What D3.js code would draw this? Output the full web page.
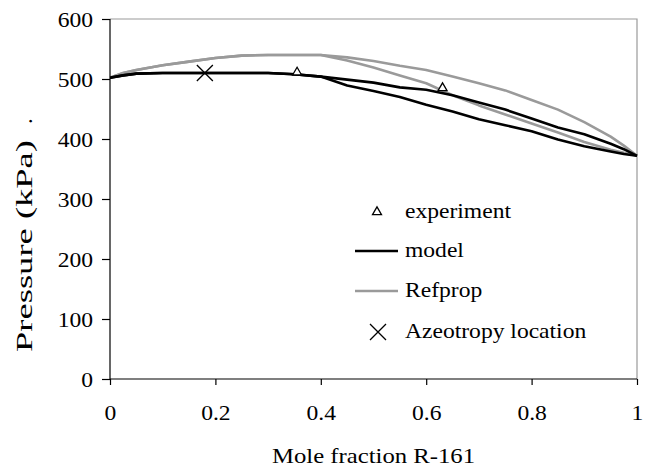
<!DOCTYPE html>
<html>
<head>
<meta charset="utf-8">
<script src="https://cdn.jsdelivr.net/npm/d3@7"></script>
<style>
  html, body { margin: 0; padding: 0; background: #fff; }
  svg { display: block; }
  text { font-family: "Liberation Serif", "Times New Roman", serif; fill: #000; }
</style>
</head>
<body>
<svg id="chart" width="653" height="470"></svg>
<script>
// Mole fraction of R-161 at which each pressure value is listed
const moleFraction = [0, 0.025, 0.05, 0.1, 0.15, 0.2, 0.25, 0.3, 0.35, 0.4, 0.45, 0.5,
                      0.55, 0.6, 0.65, 0.7, 0.75, 0.8, 0.85, 0.9, 0.95, 0.975, 1];

// Model: bubble (upper) and dew (lower) pressure, kPa
const modelBubble = [502, 506, 509, 510, 510, 510, 510, 510, 508, 504, 499, 494,
                     486, 482, 473, 461, 449, 434, 419, 408, 392, 383, 372];
const modelDew    = [502, 506, 509, 510, 510, 510, 510, 510, 508, 504, 489, 480,
                     470, 457, 446, 433, 423, 413, 399, 388, 379, 375, 372];

// Refprop: bubble (upper) and dew (lower) pressure, kPa
const refpropBubble = [502, 510, 515, 523, 529, 535, 539, 540, 540, 540, 536, 530,
                       522, 515, 504, 493, 481, 465, 449, 428, 404, 389, 372];
const refpropDew    = [502, 510, 515, 523, 529, 535, 539, 540, 540, 540, 531, 519,
                       506, 493, 473, 456, 441, 426, 411, 395, 382, 377, 372];

// Measured points
const experimentX = [0.355, 0.631];
const experimentP = [511, 485];

// Azeotrope
const azeotropeX = [0.18];
const azeotropeP = [510];

const xTicks = [0, 0.2, 0.4, 0.6, 0.8, 1];
const yTicks = [0, 100, 200, 300, 400, 500, 600];

const legendLabels = ["experiment", "model", "Refprop", "Azeotropy location"];

const svg = d3.select("#chart");
const x = d3.scaleLinear().domain([0, 1]).range([110, 637]);
const y = d3.scaleLinear().domain([0, 600]).range([379, 19]);
const SX = 1.15;   // horizontal stretch of the serif labels
const FS = 20.5;

// plot frame (top and right)
svg.append("path")
  .attr("d", `M${x(0)},${y(600)}H${x(1)}V${y(0)}`)
  .attr("fill", "none").attr("stroke", "#9a9a9a").attr("stroke-width", 1.2);

// axes
const gx = svg.append("g").attr("transform", `translate(0,${y(0)})`)
  .call(d3.axisBottom(x).tickValues(xTicks).tickSize(6).tickFormat(d3.format("")));
const gy = svg.append("g").attr("transform", `translate(${x(0)},0)`)
  .call(d3.axisLeft(y).tickValues(yTicks).tickSize(8));
[gx, gy].forEach(g => {
  g.select(".domain").attr("stroke", "#000").attr("stroke-width", 1.2);
  g.selectAll(".tick line").attr("stroke", "#000").attr("stroke-width", 1.2);
  g.selectAll(".tick text").attr("font-size", FS).attr("font-family", "Liberation Serif")
    .attr("fill", "#000").attr("x", 0).attr("y", 0).attr("dy", 0);
});
gx.selectAll(".domain").attr("d", `M${x(0)},0H${x(1)}`);
gy.selectAll(".domain").attr("d", `M0,${y(0)}V${y(600)}`);
gx.selectAll(".tick text").attr("text-anchor", "middle")
  .attr("transform", `translate(0,41) scale(${SX},1)`);
gy.selectAll(".tick text").attr("text-anchor", "end")
  .attr("transform", `translate(-17,7) scale(${SX},1)`);

// curves
const line = d3.line().x(d => x(d[0])).y(d => y(d[1]));
const series = [
  { p: refpropBubble, c: "#9a9a9a" },
  { p: refpropDew, c: "#9a9a9a" },
  { p: modelBubble, c: "#000" },
  { p: modelDew, c: "#000" }
];
series.forEach(s => {
  svg.append("path")
    .datum(moleFraction.map((m, i) => [m, s.p[i]]))
    .attr("d", line)
    .attr("fill", "none").attr("stroke", s.c).attr("stroke-width", 2.6)
    .attr("stroke-linejoin", "round");
});

// experiment markers
const tri = d3.symbol().type(d3.symbolTriangle).size(35);
svg.append("g").selectAll("path")
  .data(experimentX.map((m, i) => [m, experimentP[i]]))
  .join("path")
  .attr("transform", d => `translate(${x(d[0])},${y(d[1])})`)
  .attr("d", tri).attr("fill", "#fff").attr("stroke", "#000").attr("stroke-width", 1.3);

// azeotrope marker
function cross(g, cx, cy, h) {
  g.append("path")
    .attr("d", `M${cx - h},${cy - h}L${cx + h},${cy + h}M${cx - h},${cy + h}L${cx + h},${cy - h}`)
    .attr("stroke", "#000").attr("stroke-width", 1.3).attr("fill", "none");
}
azeotropeX.forEach((m, i) => cross(svg, x(m), y(azeotropeP[i]), 8));

// legend
const lg = svg.append("g");
const rowY = [212, 251, 291, 332];
lg.append("path").attr("transform", `translate(377,${rowY[0]})`)
  .attr("d", tri).attr("fill", "#fff").attr("stroke", "#000").attr("stroke-width", 1.3);
lg.append("line").attr("x1", 355).attr("x2", 398).attr("y1", rowY[1]).attr("y2", rowY[1])
  .attr("stroke", "#000").attr("stroke-width", 2.6);
lg.append("line").attr("x1", 355).attr("x2", 398).attr("y1", rowY[2]).attr("y2", rowY[2])
  .attr("stroke", "#9a9a9a").attr("stroke-width", 2.6);
cross(lg, 378, rowY[3], 8);
legendLabels.forEach((t, i) => {
  lg.append("text").attr("font-size", FS)
    .attr("transform", `translate(405,${rowY[i] + 6}) scale(${SX},1)`)
    .text(t);
});

// axis titles
svg.append("text").attr("font-size", FS + 1).attr("text-anchor", "middle")
  .attr("transform", `translate(${(x(0) + x(1)) / 2},463) scale(${SX},1)`)
  .text("Mole fraction R-161");
svg.append("text").attr("font-size", 23)
  .attr("transform", "translate(32,352) rotate(-90)")
  .attr("textLength", 212).attr("lengthAdjust", "spacingAndGlyphs")
  .text("Pressure (kPa)");
svg.append("text").attr("font-size", 23)
  .attr("transform", "translate(32,124) rotate(-90)")
  .text(".");
</script>
</body>
</html>
